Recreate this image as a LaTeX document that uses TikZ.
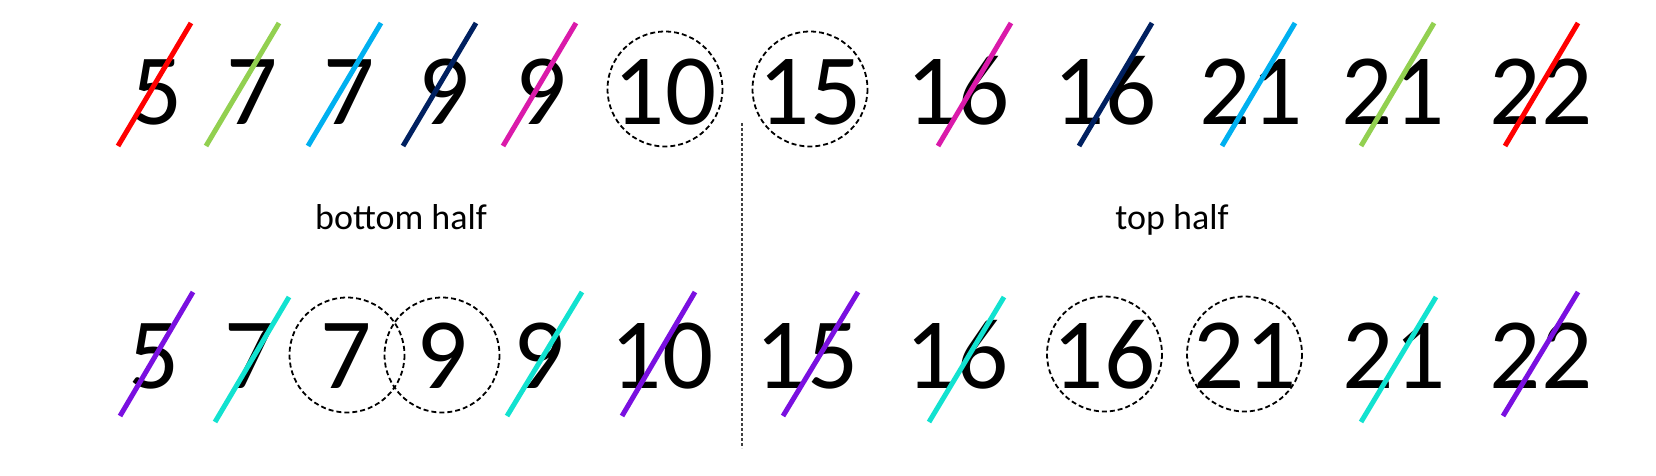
\documentclass[tikz,border=0pt]{standalone}
\usepackage{fontspec}
\setmainfont{Carlito}
\definecolor{cRed}{HTML}{FF0000}
\definecolor{cGreen}{HTML}{92D050}
\definecolor{cBlue}{HTML}{00B0F0}
\definecolor{cNavy}{HTML}{002060}
\definecolor{cPink}{HTML}{DA1AAA}
\definecolor{cViolet}{HTML}{7A10E0}
\definecolor{cTeal}{HTML}{12E2D0}
\definecolor{cRule}{HTML}{404040}
\tikzset{
  every picture/.style={line join=round},
  num/.style={anchor=base, inner sep=0pt, font=\fontsize{101}{101}\selectfont},
  lbl/.style={anchor=base, inner sep=0pt, font=\fontsize{36}{36}\selectfont},
  strike/.style={line width=5pt},
  ring/.style={dash pattern=on 5pt off 3pt, line width=1.8pt},
}

\begin{document}
\begin{tikzpicture}[x=1pt,y=-1pt]
\useasboundingbox (0,0) rectangle (1656,475);
% top row
\node[num] (t1) at (157,124) {5};
\node[num] (t2) at (252,124) {7};
\node[num] (t3) at (349,124) {7};
\node[num] (t4) at (444,124) {9};
\node[num] (t5) at (541,124) {9};
\node[num] (t6) at (665,124) {10};
\node[num] (t7) at (810,124) {15};
\node[num] (t8) at (958,124) {16};
\node[num] (t9) at (1105,124) {16};
\node[num] (t10) at (1251,124) {21};
\node[num] (t11) at (1393,124) {21};
\node[num] (t12) at (1541,124) {22};
\draw[strike,cRed] ([shift={(-39,22)}]t1.base) -- ++(73,-123);
\draw[strike,cGreen] ([shift={(-46,22)}]t2.base) -- ++(73,-123);
\draw[strike,cBlue] ([shift={(-41,22)}]t3.base) -- ++(73,-123);
\draw[strike,cNavy] ([shift={(-41,22)}]t4.base) -- ++(73,-123);
\draw[strike,cPink] ([shift={(-38,22)}]t5.base) -- ++(73,-123);
\draw[ring] ([shift={(0,-35)}]t6.base) circle[radius=57.5];
\draw[ring] ([shift={(0,-35)}]t7.base) circle[radius=57.5];
\draw[strike,cPink] ([shift={(-20,22)}]t8.base) -- ++(73,-123);
\draw[strike,cNavy] ([shift={(-26,22)}]t9.base) -- ++(73,-123);
\draw[strike,cBlue] ([shift={(-29,22)}]t10.base) -- ++(73,-123);
\draw[strike,cGreen] ([shift={(-32,22)}]t11.base) -- ++(73,-123);
\draw[strike,cRed] ([shift={(-36,22)}]t12.base) -- ++(73,-123);
% labels and divider
\node[lbl] (lo) at (401,229) {bottom half};
\node[lbl] (hi) at (1172,229) {top half};
\draw[cRule,line width=1.1pt,dash pattern=on 3pt off 2pt] (742,123) -- (742,448);
% bottom row
\node[num] (b1) at (154,388) {5};
\node[num] (b2) at (250,388) {7};
\node[num] (b3) at (346,388) {7};
\node[num] (b4) at (442,388) {9};
\node[num] (b5) at (539,388) {9};
\node[num] (b6) at (662,388) {10};
\node[num] (b7) at (807,388) {15};
\node[num] (b8) at (957,388) {16};
\node[num] (b9) at (1104,388) {16};
\node[num] (b10) at (1245,388) {21};
\node[num] (b11) at (1394,388) {21};
\node[num] (b12) at (1541,388) {22};
\draw[strike,cViolet] ([shift={(-34,28)}]b1.base) -- ++(73,-124);
\draw[strike,cTeal] ([shift={(-35,34)}]b2.base) -- ++(74,-125);
\draw[ring] ([shift={(1,-33)}]b3.base) circle[radius=57.5];
\draw[ring] ([shift={(0,-33)}]b4.base) circle[radius=57.5];
\draw[strike,cTeal] ([shift={(-32,28)}]b5.base) -- ++(75,-124);
\draw[strike,cViolet] ([shift={(-40,28)}]b6.base) -- ++(73,-124);
\draw[strike,cViolet] ([shift={(-24,28)}]b7.base) -- ++(75,-124);
\draw[strike,cTeal] ([shift={(-28,34)}]b8.base) -- ++(75,-125);
\draw[ring] ([shift={(0.5,-34)}]b9.base) circle[radius=57.5];
\draw[ring] ([shift={(-0.5,-34)}]b10.base) circle[radius=57.5];
\draw[strike,cTeal] ([shift={(-33,34)}]b11.base) -- ++(75,-125);
\draw[strike,cViolet] ([shift={(-38,28)}]b12.base) -- ++(75,-124);
\end{tikzpicture}
\end{document}
